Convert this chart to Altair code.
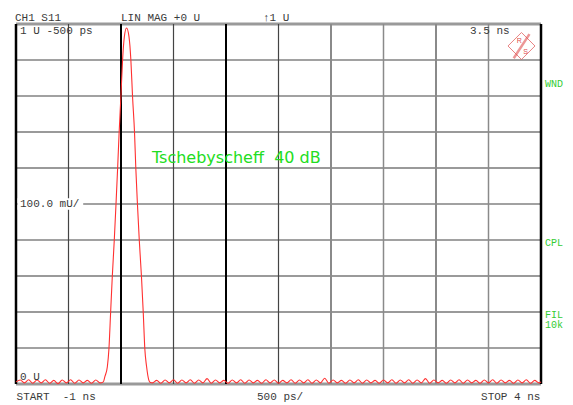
import altair as alt
import pandas as pd

# S11 time-domain response, LIN MAG (U) versus time (ns), Tschebyscheff window 40 dB

# baseline ripple before the reflection
left_t = [-1.00, -0.96, -0.92, -0.88, -0.84, -0.80, -0.76, -0.72, -0.68, -0.64,
          -0.60, -0.56, -0.52, -0.48, -0.44, -0.40, -0.36, -0.32, -0.28, -0.24, -0.20]
left_v = [0.006, 0.011, 0.003, 0.012, 0.002, 0.011, 0.003, 0.012, 0.002, 0.010,
          0.001, 0.011, 0.003, 0.012, 0.002, 0.011, 0.003, 0.010, 0.002, 0.011, 0.003]

# main reflection pulse
pulse_t = [-0.168, -0.153, -0.130, -0.115, -0.099, -0.083, -0.064, -0.048, -0.032,
           -0.018, -0.001, 0.015, 0.032, 0.053, 0.076, 0.094, 0.110, 0.129, 0.141,
           0.157, 0.174, 0.195, 0.212, 0.227, 0.243, 0.265, 0.280]
pulse_v = [0.006, 0.021, 0.048, 0.097, 0.198, 0.298, 0.400, 0.497, 0.600,
           0.697, 0.798, 0.900, 0.965, 0.989, 0.965, 0.900, 0.798, 0.697, 0.600,
           0.497, 0.400, 0.298, 0.198, 0.097, 0.050, 0.011, 0.004]

# baseline ripple after the reflection
right_t = [0.30, 0.34, 0.38, 0.42, 0.46, 0.50, 0.54, 0.58, 0.62, 0.66,
           0.70, 0.74, 0.78, 0.82, 0.86, 0.90, 0.94, 0.98, 1.02, 1.06,
           1.10, 1.14, 1.18, 1.22, 1.26, 1.30, 1.34, 1.38, 1.42, 1.46,
           1.50, 1.54, 1.58, 1.62, 1.66, 1.70, 1.74, 1.78, 1.82, 1.86,
           1.90, 1.94, 1.98, 2.02, 2.06, 2.10, 2.14, 2.18, 2.22, 2.26,
           2.30, 2.34, 2.38, 2.42, 2.46, 2.50, 2.54, 2.58, 2.62, 2.66,
           2.70, 2.74, 2.78, 2.82, 2.86, 2.90, 2.94, 2.98, 3.02, 3.06,
           3.10, 3.14, 3.18, 3.22, 3.26, 3.30, 3.34, 3.38, 3.42, 3.46,
           3.50, 3.54, 3.58, 3.62, 3.66, 3.70, 3.74, 3.78, 3.82, 3.86,
           3.90, 3.94, 3.98, 4.00]
right_v = [0.003, 0.010, 0.002, 0.011, 0.003, 0.012, 0.002, 0.011, 0.003, 0.012,
           0.002, 0.011, 0.003, 0.015, 0.002, 0.011, 0.003, 0.010, 0.002, 0.011,
           0.003, 0.012, 0.002, 0.011, 0.003, 0.010, 0.002, 0.012, 0.003, 0.011,
           0.002, 0.010, 0.003, 0.012, 0.002, 0.011, 0.003, 0.012, 0.002, 0.011,
           0.003, 0.016, 0.002, 0.011, 0.003, 0.010, 0.002, 0.011, 0.003, 0.012,
           0.002, 0.011, 0.003, 0.010, 0.002, 0.011, 0.003, 0.012, 0.002, 0.011,
           0.003, 0.012, 0.002, 0.011, 0.003, 0.015, 0.002, 0.011, 0.003, 0.010,
           0.002, 0.011, 0.003, 0.012, 0.002, 0.011, 0.003, 0.010, 0.002, 0.011,
           0.003, 0.012, 0.002, 0.011, 0.003, 0.010, 0.002, 0.011, 0.003, 0.012,
           0.002, 0.010, 0.003, 0.006]

# graticule: 10 divisions of 500 ps and 10 divisions of 100 mU
x_ticks = [-1.0, -0.5, 0.0, 0.5, 1.0, 1.5, 2.0, 2.5, 3.0, 3.5, 4.0]
y_ticks = [0.0, 0.1, 0.2, 0.3, 0.4, 0.5, 0.6, 0.7, 0.8, 0.9, 1.0]

trace = pd.DataFrame({
    "t": left_t + pulse_t + right_t,
    "v": left_v + pulse_v + right_v,
})

MONO = "Liberation Mono"
TXT = "#3a3a3a"
GREEN = "#33cc33"

x_scale = alt.Scale(domain=[-1, 4], nice=False, zero=False)
y_scale = alt.Scale(domain=[0, 1], nice=False, zero=False)
# the graticule is drawn as rules, so the axes carry nothing visible
AX = alt.Axis(labels=False, ticks=False, domain=False, grid=False, title=None)

xdf = pd.DataFrame({"t": x_ticks})
ydf = pd.DataFrame({"v": y_ticks})


def vlines(test, color, width):
    # vertical graticule lines picked out by a test on 2*t
    return alt.Chart(xdf).transform_filter(test).mark_rule(
        color=color, strokeWidth=width
    ).encode(x=alt.X("t:Q", scale=x_scale, axis=AX))


def hlines(test, color, width):
    # horizontal graticule lines picked out by a test on 10*v
    return alt.Chart(ydf).transform_filter(test).mark_rule(
        color=color, strokeWidth=width
    ).encode(y=alt.Y("v:Q", scale=y_scale, axis=AX))


H = "round(datum.v * 10)"
V = "round(datum.t * 2)"
grid = [
    hlines(f"indexof([1, 4, 5, 8, 9], {H}) >= 0", "#444444", 1.2),
    hlines(f"indexof([2, 3, 6, 7], {H}) >= 0", "#9a9a9a", 2),
    hlines(f"indexof([0, 10], {H}) >= 0", "#9a9a9a", 3),
    vlines(f"indexof([-1, 1, 3], {V}) >= 0", "#444444", 1.2),
    vlines(f"indexof([5, 7], {V}) >= 0", "#8a8a8a", 1.5),
    vlines(f"indexof([4, 6], {V}) >= 0", "#8a8a8a", 2),
    vlines(f"indexof([0, 2], {V}) >= 0", "#000000", 2),
    vlines(f"indexof([-2, 8], {V}) >= 0", "#000000", 2.5),
]

line = alt.Chart(trace).mark_line(
    color="#ff3030", strokeWidth=1.1, interpolate="monotone"
).encode(
    x=alt.X("t:Q", scale=x_scale, axis=AX),
    y=alt.Y("v:Q", scale=y_scale, axis=AX),
)

one = alt.Data(values=[{}])


def label(text, t, v, color=TXT, size=11, font=MONO, align="left"):
    return alt.Chart(one).mark_text(
        text=text, font=font, fontSize=size, color=color, align=align,
        baseline="alphabetic",
    ).encode(x=alt.datum(t), y=alt.datum(v))


# white patch behind the scale label on the centre graticule line
mask = alt.Chart(one).mark_rect(color="white").encode(
    x=alt.datum(-0.985), x2=alt.datum(-0.36), y=alt.datum(0.484), y2=alt.datum(0.516)
)

# instrument logo
logo = alt.Chart(one).mark_point(
    shape="diamond", size=729, filled=False, stroke="#e05050", strokeWidth=1
).encode(x=alt.datum(3.814), y=alt.datum(0.9389))
logo_band = alt.Chart(one).mark_rule(color="#e05050", strokeWidth=2.5, opacity=0.6).encode(
    x=alt.datum(3.74), x2=alt.datum(3.89), y=alt.datum(0.905), y2=alt.datum(0.972)
)

NB = "\u00a0"
labels = [
    label("CH1 S11", -1.01, 1.0083),
    label("LIN MAG +0 U", 0.0, 1.0083),
    label("\u21911 U", 1.352, 1.0083),
    label("1 U -500 ps", -0.962, 0.9722),
    label("3.5 ns", 3.324, 0.9722),
    label("100.0 mU/", -0.962, 0.4917),
    label("0 U", -0.962, 0.0111),
    label("START" + NB + NB + "-1 ns", -0.995, -0.0444),
    label("500 ps/", 1.295, -0.0444),
    label("STOP 4 ns", 3.429, -0.0444),
    label("WND", 4.038, 0.825, color=GREEN, size=10),
    label("CPL", 4.038, 0.3833, color=GREEN, size=10),
    label("FIL", 4.038, 0.1833, color=GREEN, size=10),
    label("10k", 4.038, 0.1556, color=GREEN, size=10),
    label("Tschebyscheff" + NB + NB + "40 dB", 0.295, 0.6139, color="#22dd22", size=16,
          font="DejaVu Sans"),
    label("R", 3.77, 0.948, color="#e05050", size=7, font="Liberation Sans"),
    label("S", 3.83, 0.918, color="#e05050", size=7, font="Liberation Sans"),
]

# graticule first, then the trace on top of it, then the annotations
chart = alt.layer(*grid, line, mask, logo, logo_band, *labels).properties(
    width=525,
    height=360,
    padding={"left": 16, "top": 24, "right": 32, "bottom": 21},
    autosize=alt.AutoSizeParams(type="none"),
    background="white",
).configure_view(stroke=None)

chart.save("out.html", embed_options={"renderer": "svg", "actions": False})
